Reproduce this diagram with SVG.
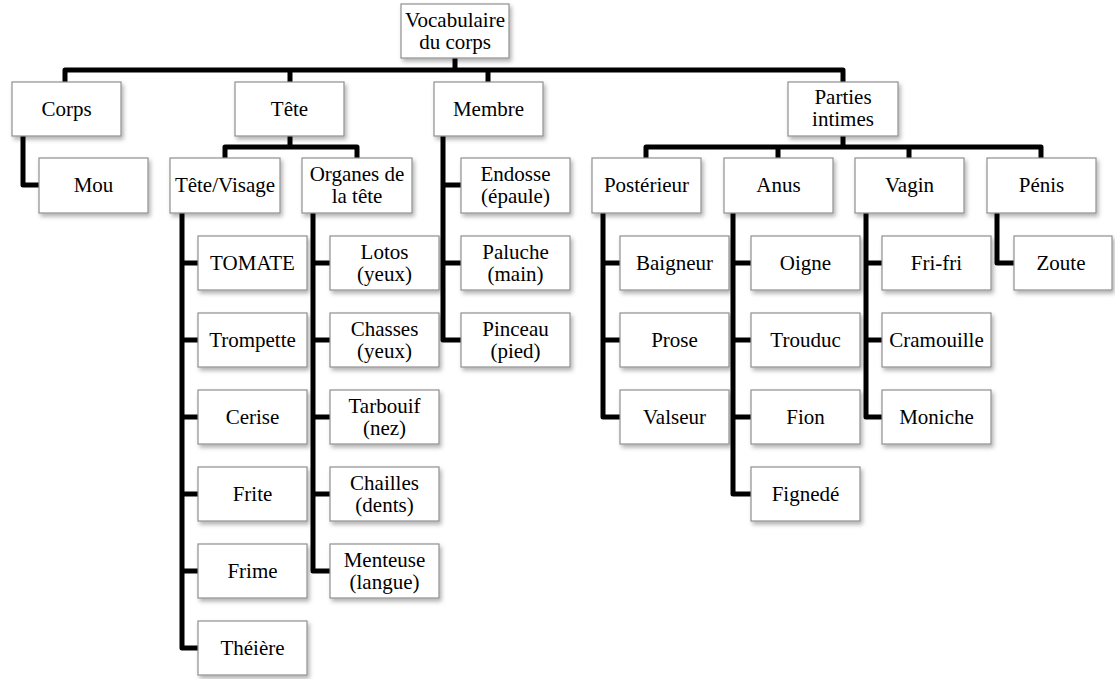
<svg xmlns="http://www.w3.org/2000/svg" width="1115" height="679" viewBox="0 0 1115 679">
<defs>
<filter id="sh" x="-10%" y="-10%" width="130%" height="140%">
<feDropShadow dx="2" dy="3" stdDeviation="2" flood-color="#000" flood-opacity="0.3"/>
</filter>
</defs>
<style>
.b{fill:#fff;stroke:#8f8f8f;stroke-width:1.2;filter:url(#sh)}
.t{font-family:"Liberation Serif","Times New Roman",serif;font-size:21px;fill:#000;text-anchor:middle}
.c{fill:none;stroke:#000;stroke-width:5;stroke-linejoin:round;stroke-linecap:butt}
</style>
<rect width="1115" height="679" fill="#fff"/>
<g id="connectors" class="c">
<path d="M455,58V70"/>
<path d="M65,82V70H843V82"/>
<path d="M290,70V82"/>
<path d="M488,70V82"/>
<path d="M23,136V185H39"/>
<path d="M290,136V147"/>
<path d="M225,158V147H357V158"/>
<path d="M182,213V648H198"/>
<path d="M182,263H198M182,340H198M182,417H198M182,494H198M182,571H198"/>
<path d="M313,213V571H330"/>
<path d="M313,263H330M313,340H330M313,417H330M313,494H330"/>
<path d="M443,136V340H461"/>
<path d="M443,185H461M443,263H461"/>
<path d="M843,136V147"/>
<path d="M646,158V147H1041V158"/>
<path d="M778,147V158M909,147V158"/>
<path d="M603,213V417H620"/>
<path d="M603,263H620M603,340H620"/>
<path d="M733,213V494H751"/>
<path d="M733,263H751M733,340H751M733,417H751"/>
<path d="M866,213V417H882"/>
<path d="M866,263H882M866,340H882"/>
<path d="M997,213V263H1014"/>
</g>
<g id="root"><rect class="b" x="401" y="4" width="108" height="54"/><text class="t" x="455" y="27">Vocabulaire</text><text class="t" x="455" y="49">du corps</text></g>
<g id="corps"><rect class="b" x="12" y="82" width="109" height="54"/><text class="t" x="66.5" y="116">Corps</text></g>
<g id="tete"><rect class="b" x="235" y="82" width="109" height="54"/><text class="t" x="289.5" y="116">Tête</text></g>
<g id="membre"><rect class="b" x="434" y="82" width="109" height="54"/><text class="t" x="488.5" y="116">Membre</text></g>
<g id="parties"><rect class="b" x="788" y="82" width="110" height="54"/><text class="t" x="843" y="104">Parties</text><text class="t" x="843" y="126">intimes</text></g>
<g id="mou"><rect class="b" x="39" y="158" width="109" height="55"/><text class="t" x="93.5" y="192">Mou</text></g>
<g id="tetevisage"><rect class="b" x="170" y="158" width="110" height="55"/><text class="t" x="225" y="192">Tête/Visage</text></g>
<g id="organes"><rect class="b" x="302" y="158" width="110" height="55"/><text class="t" x="357" y="181">Organes de</text><text class="t" x="357" y="203">la tête</text></g>
<g id="endosse"><rect class="b" x="461" y="158" width="109" height="55"/><text class="t" x="515.5" y="181">Endosse</text><text class="t" x="515.5" y="203">(épaule)</text></g>
<g id="posterieur"><rect class="b" x="592" y="158" width="109" height="55"/><text class="t" x="646.5" y="192">Postérieur</text></g>
<g id="anus"><rect class="b" x="724" y="158" width="109" height="55"/><text class="t" x="778.5" y="192">Anus</text></g>
<g id="vagin"><rect class="b" x="855" y="158" width="109" height="55"/><text class="t" x="909.5" y="192">Vagin</text></g>
<g id="penis"><rect class="b" x="987" y="158" width="109" height="55"/><text class="t" x="1041.5" y="192">Pénis</text></g>
<g id="tomate"><rect class="b" x="198" y="236" width="109" height="54"/><text class="t" x="252.5" y="270">TOMATE</text></g>
<g id="trompette"><rect class="b" x="198" y="313" width="109" height="54"/><text class="t" x="252.5" y="347">Trompette</text></g>
<g id="cerise"><rect class="b" x="198" y="390" width="109" height="54"/><text class="t" x="252.5" y="424">Cerise</text></g>
<g id="frite"><rect class="b" x="198" y="467" width="109" height="54"/><text class="t" x="252.5" y="501">Frite</text></g>
<g id="frime"><rect class="b" x="198" y="544" width="109" height="54"/><text class="t" x="252.5" y="578">Frime</text></g>
<g id="theiere"><rect class="b" x="198" y="621" width="109" height="54"/><text class="t" x="252.5" y="655">Théière</text></g>
<g id="lotos"><rect class="b" x="330" y="236" width="109" height="54"/><text class="t" x="384.5" y="259">Lotos</text><text class="t" x="384.5" y="281">(yeux)</text></g>
<g id="chasses"><rect class="b" x="330" y="313" width="109" height="54"/><text class="t" x="384.5" y="336">Chasses</text><text class="t" x="384.5" y="358">(yeux)</text></g>
<g id="tarbouif"><rect class="b" x="330" y="390" width="109" height="54"/><text class="t" x="384.5" y="413">Tarbouif</text><text class="t" x="384.5" y="435">(nez)</text></g>
<g id="chailles"><rect class="b" x="330" y="467" width="109" height="54"/><text class="t" x="384.5" y="490">Chailles</text><text class="t" x="384.5" y="512">(dents)</text></g>
<g id="menteuse"><rect class="b" x="330" y="544" width="109" height="54"/><text class="t" x="384.5" y="567">Menteuse</text><text class="t" x="384.5" y="589">(langue)</text></g>
<g id="paluche"><rect class="b" x="461" y="236" width="109" height="54"/><text class="t" x="515.5" y="259">Paluche</text><text class="t" x="515.5" y="281">(main)</text></g>
<g id="pinceau"><rect class="b" x="461" y="313" width="109" height="54"/><text class="t" x="515.5" y="336">Pinceau</text><text class="t" x="515.5" y="358">(pied)</text></g>
<g id="baigneur"><rect class="b" x="620" y="236" width="109" height="54"/><text class="t" x="674.5" y="270">Baigneur</text></g>
<g id="prose"><rect class="b" x="620" y="313" width="109" height="54"/><text class="t" x="674.5" y="347">Prose</text></g>
<g id="valseur"><rect class="b" x="620" y="390" width="109" height="54"/><text class="t" x="674.5" y="424">Valseur</text></g>
<g id="oigne"><rect class="b" x="751" y="236" width="109" height="54"/><text class="t" x="805.5" y="270">Oigne</text></g>
<g id="trouduc"><rect class="b" x="751" y="313" width="109" height="54"/><text class="t" x="805.5" y="347">Trouduc</text></g>
<g id="fion"><rect class="b" x="751" y="390" width="109" height="54"/><text class="t" x="805.5" y="424">Fion</text></g>
<g id="fignede"><rect class="b" x="751" y="467" width="109" height="54"/><text class="t" x="805.5" y="501">Fignedé</text></g>
<g id="frifri"><rect class="b" x="882" y="236" width="109" height="54"/><text class="t" x="936.5" y="270">Fri-fri</text></g>
<g id="cramouille"><rect class="b" x="882" y="313" width="109" height="54"/><text class="t" x="936.5" y="347">Cramouille</text></g>
<g id="moniche"><rect class="b" x="882" y="390" width="109" height="54"/><text class="t" x="936.5" y="424">Moniche</text></g>
<g id="zoute"><rect class="b" x="1014" y="236" width="98" height="54"/><text class="t" x="1061" y="270">Zoute</text></g>
</svg>
